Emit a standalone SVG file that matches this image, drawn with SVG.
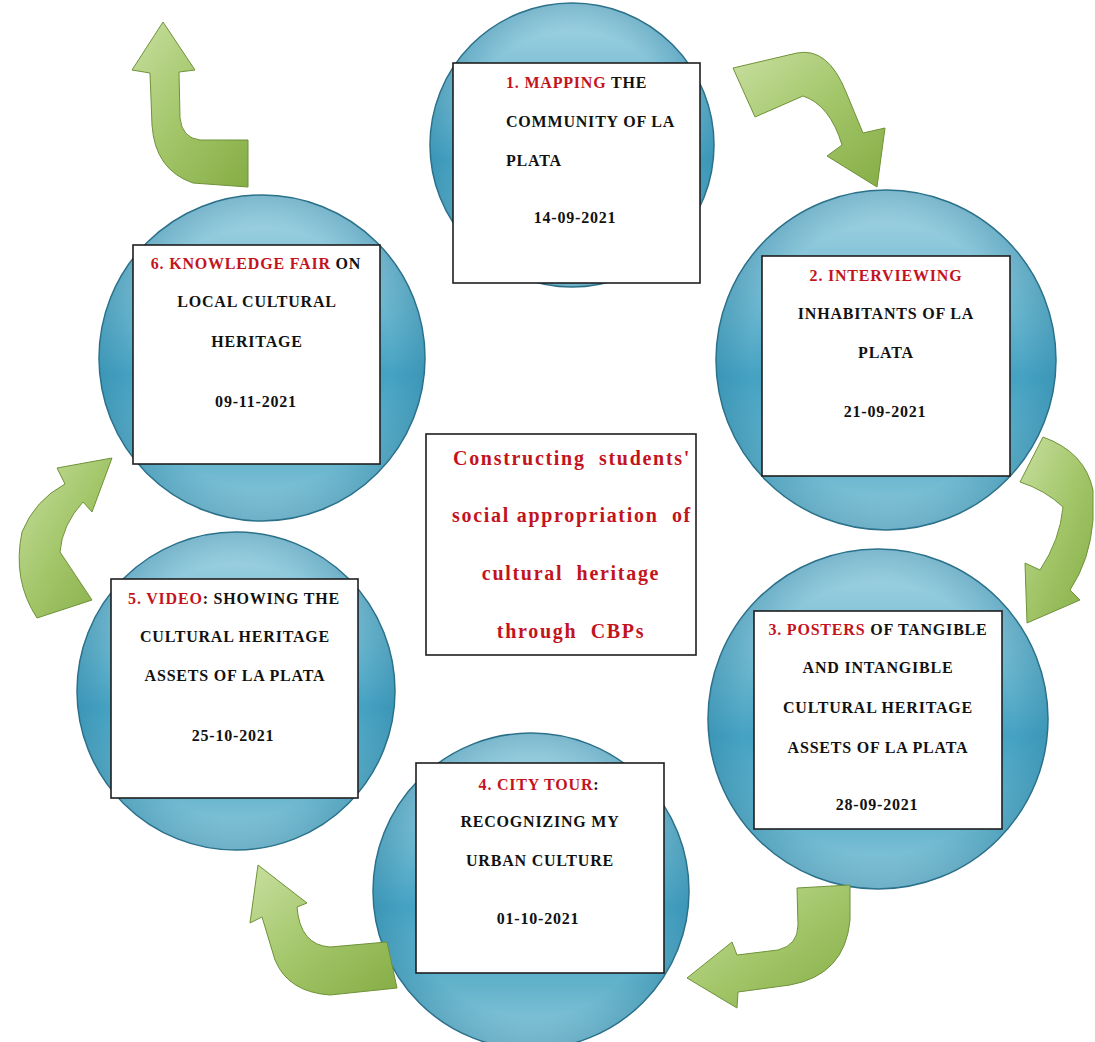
<svg xmlns="http://www.w3.org/2000/svg" width="1095" height="1042" viewBox="0 0 1095 1042">
<defs>
<linearGradient id="blue" x1="0" y1="0" x2="0" y2="1">
<stop offset="0" stop-color="#a9d6e5"/>
<stop offset="0.3" stop-color="#74bbd2"/>
<stop offset="0.55" stop-color="#45a2c2"/>
<stop offset="0.8" stop-color="#62b2cb"/>
<stop offset="1" stop-color="#93cbdc"/>
</linearGradient>
<radialGradient id="shade" cx="0.5" cy="0.5" r="0.5">
<stop offset="0.8" stop-color="#2a7fa0" stop-opacity="0"/>
<stop offset="1" stop-color="#2a7fa0" stop-opacity="0.35"/>
</radialGradient>
<linearGradient id="green" x1="0" y1="0" x2="1" y2="1">
<stop offset="0" stop-color="#c8df9f"/>
<stop offset="0.5" stop-color="#a3c66a"/>
<stop offset="1" stop-color="#86ad45"/>
</linearGradient>
<style>
.circ{fill:url(#blue);stroke:#2b6e86;stroke-width:1.5}
.ov{fill:url(#shade)}
.box{fill:#ffffff;stroke:#1f1f1f;stroke-width:1.6}
.t{font-family:"Liberation Serif","Times New Roman",serif;font-weight:bold;font-size:16px;letter-spacing:0.8px;fill:#111111}
.m{text-anchor:middle}
.r{fill:#c3141e}
.c{font-family:"Liberation Serif","Times New Roman",serif;font-weight:bold;font-size:20px;letter-spacing:1.7px;fill:#c3141e;text-anchor:middle;white-space:pre}
.arr{fill:url(#green);stroke:#6f9238;stroke-width:1}
</style>
</defs>
<rect width="1095" height="1042" fill="#ffffff"/>

<g id="node1">
<circle class="circ" cx="572" cy="145" r="142"/>
<circle class="ov" cx="572" cy="145" r="142"/>
<rect class="box" x="453" y="63" width="247" height="220"/>
<text class="t" x="506" y="88"><tspan class="r">1. MAPPING</tspan> THE</text>
<text class="t" x="506" y="127">COMMUNITY OF LA</text>
<text class="t" x="506" y="166">PLATA</text>
<text class="t m" x="575" y="223">14-09-2021</text>
</g>

<g id="node2">
<circle class="circ" cx="886" cy="360" r="170"/>
<circle class="ov" cx="886" cy="360" r="170"/>
<rect class="box" x="762" y="256" width="248" height="220"/>
<text class="t m r" x="886" y="281">2. INTERVIEWING</text>
<text class="t m" x="886" y="319">INHABITANTS OF LA</text>
<text class="t m" x="886" y="358">PLATA</text>
<text class="t m" x="885" y="417">21-09-2021</text>
</g>

<g id="node3">
<circle class="circ" cx="878" cy="719" r="170"/>
<circle class="ov" cx="878" cy="719" r="170"/>
<rect class="box" x="754" y="611" width="248" height="218"/>
<text class="t m" x="878" y="635"><tspan class="r">3. POSTERS</tspan> OF TANGIBLE</text>
<text class="t m" x="878" y="673">AND INTANGIBLE</text>
<text class="t m" x="878" y="713">CULTURAL HERITAGE</text>
<text class="t m" x="878" y="753">ASSETS OF LA PLATA</text>
<text class="t m" x="877" y="810">28-09-2021</text>
</g>

<g id="node4">
<circle class="circ" cx="531" cy="891" r="158"/>
<circle class="ov" cx="531" cy="891" r="158"/>
<rect class="box" x="416" y="763" width="248" height="210"/>
<text class="t m" x="539" y="790"><tspan class="r">4. CITY TOUR</tspan>:</text>
<text class="t m" x="540" y="827">RECOGNIZING MY</text>
<text class="t m" x="540" y="866">URBAN CULTURE</text>
<text class="t m" x="538" y="924">01-10-2021</text>
</g>

<g id="node5">
<circle class="circ" cx="236" cy="691" r="159"/>
<circle class="ov" cx="236" cy="691" r="159"/>
<rect class="box" x="111" y="579" width="247" height="219"/>
<text class="t m" x="234" y="604"><tspan class="r">5. VIDEO</tspan>: SHOWING THE</text>
<text class="t m" x="235" y="642">CULTURAL HERITAGE</text>
<text class="t m" x="235" y="681">ASSETS OF LA PLATA</text>
<text class="t m" x="233" y="741">25-10-2021</text>
</g>

<g id="node6">
<circle class="circ" cx="262" cy="358" r="163"/>
<circle class="ov" cx="262" cy="358" r="163"/>
<rect class="box" x="133" y="245" width="247" height="219"/>
<text class="t m" x="256" y="269"><tspan class="r">6. KNOWLEDGE FAIR</tspan> ON</text>
<text class="t m" x="257" y="307">LOCAL CULTURAL</text>
<text class="t m" x="257" y="347">HERITAGE</text>
<text class="t m" x="256" y="407">09-11-2021</text>
</g>

<g id="center">
<rect class="box" x="426" y="434" width="270" height="221"/>
<text class="c" x="572" y="465" xml:space="preserve">Constructing  students'</text>
<text class="c" x="572" y="522" xml:space="preserve">social appropriation  of</text>
<text class="c" x="571" y="580" xml:space="preserve">cultural  heritage</text>
<text class="c" x="571" y="638" xml:space="preserve">through  CBPs</text>
</g>

<g id="connectors">
<path class="arr" d="M733,68 L797,53 Q828,47 846,92 L863,133 L885,128 L877,187 L827,156 L842,145 Q830,105 803,96 L755,117 Z"/>
<path class="arr" d="M1043,437 Q1085,452 1093,490 L1093,520 Q1090,560 1070,590 L1080,600 L1027,623 L1025,563 L1040,570 Q1060,540 1063,507 Q1045,490 1020,482 Z"/>
<path class="arr" d="M797,888 L850,885 L850,920 Q845,975 790,985 L738,992 L737,1008 L687,978 L732,942 L737,955 L778,950 Q798,945 798,925 Z"/>
<path class="arr" d="M258,865 L307,903 L297,907 Q300,945 330,947 L387,942 L397,988 L330,995 Q288,992 275,960 L262,917 L250,923 Z"/>
<path class="arr" d="M112,458 L92,512 L83,502 Q62,525 60,552 L92,600 L37,618 Q12,580 22,532 Q35,500 65,484 L57,468 Z"/>
<path class="arr" d="M163,22 L195,70 L179,72 L180,118 Q182,138 200,140 L248,140 L248,187 L193,183 Q155,170 152,125 L150,73 L132,70 Z"/>
</g>
</svg>
